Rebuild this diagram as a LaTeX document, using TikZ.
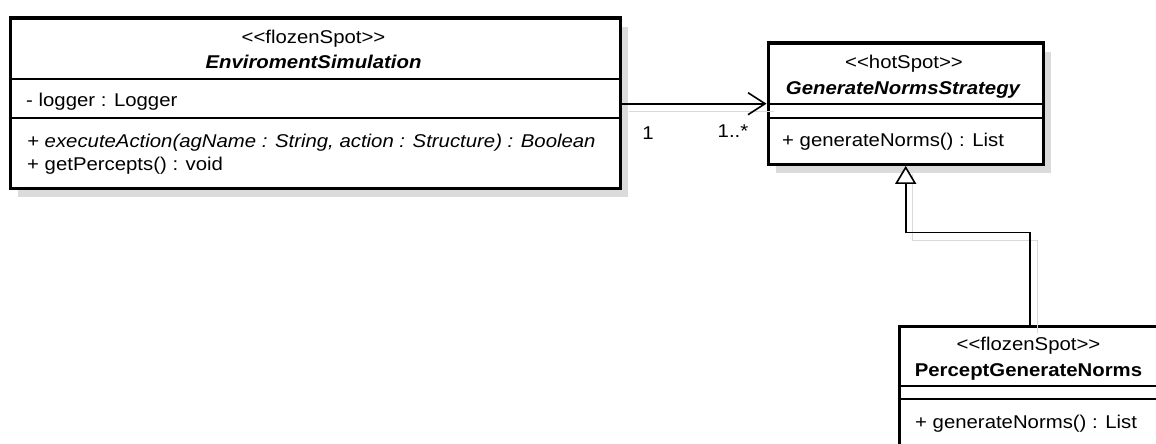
\documentclass[tikz,border=0pt]{standalone}
\usepackage{fontspec}
\setmainfont{Liberation Sans}[FakeStretch=1.1, Ligatures=TeXOff]
\usetikzlibrary{arrows.meta,shadows}

\newcommand\umlfont{\fontsize{18.5}{22}\selectfont}

\tikzset{
  classbox/.style={draw, line width=3.4pt, fill=white, anchor=north west, inner sep=0pt,
    drop shadow={shadow xshift=8pt, shadow yshift=-9pt, fill=black!14, opacity=1}},
  sep/.style={line width=1.3pt},
  member/.style={anchor=west, inner sep=0pt, text height=13.2pt, text depth=0pt, font=\umlfont},
  stereo/.style={member, anchor=center},
  classname/.style={member, anchor=center, font=\umlfont\bfseries},
  lineshadow/.style={preaction={-, draw=black!15, line width=1.2pt, transform canvas={shift={(7pt,-8pt)}}}},
  assoc/.style={lineshadow, line width=1.6pt, -{Straight Barb[length=17pt, width=22pt, line width=1.6pt]}},
  realize/.style={lineshadow, line width=1.6pt, -{Triangle[open, length=18pt, width=21pt, line width=1.6pt, fill=white]}},
}

\begin{document}
\begin{tikzpicture}[x=1pt, y=-1pt]
\useasboundingbox (0,0) rectangle (1156,444);

% class boxes
\node[classbox, minimum width=610pt, minimum height=170pt] (envsim) at (8.5,16.5) {};
\node[classbox, minimum width=275pt, minimum height=121pt] (strategy) at (766.5,41.5) {};
\node[classbox, minimum width=262pt, minimum height=130pt] (percept) at (897.5,324.5) {};

% compartments
\draw[sep] (envsim.west |- 0,79) -- (envsim.east |- 0,79);
\draw[sep] (envsim.west |- 0,118) -- (envsim.east |- 0,118);
\draw[sep] (strategy.west |- 0,104) -- (strategy.east |- 0,104);
\draw[sep] (strategy.west |- 0,118) -- (strategy.east |- 0,118);
\draw[sep] (percept.west |- 0,386) -- (percept.east |- 0,386);
\draw[sep] (percept.west |- 0,399) -- (percept.east |- 0,399);

% EnviromentSimulation
\node[stereo] (envsimst) at (313.5,37) {<<flozenSpot>>};
\node[classname, font=\umlfont\bfseries\itshape] (envsimname) at (313.5,62) {EnviromentSimulation};
\node[member] (envsimattr) at (26,100) {- logger : Logger};
\node[member, font=\umlfont\itshape] (envsimop1) at (27,141) {+ executeAction(agName : String, action : Structure) : Boolean};
\node[member] (envsimop2) at (27,164) {+ getPercepts() : void};

% GenerateNormsStrategy
\node[stereo] (strategyst) at (904,62) {<<hotSpot>>};
\node[classname, font=\umlfont\bfseries\itshape] (strategyname) at (903,88) {GenerateNormsStrategy};
\node[member] (strategyop) at (782,140) {+ generateNorms() : List};

% PerceptGenerateNorms
\node[stereo] (perceptst) at (1028.5,344) {<<flozenSpot>>};
\node[classname] (perceptname) at (1028.5,370) {PerceptGenerateNorms};
\node[member] (perceptop) at (915,422) {+ generateNorms() : List};

% relations
\draw[assoc] (envsim.east |- strategy.west) -- (strategy.west);
\node[stereo] (multsrc) at (648,133) {1};
\node[stereo] (multdst) at (733,131) {1..*};
\draw[realize] (percept.north) -- ++(0,-92) -| (strategy.south);
\end{tikzpicture}
\end{document}
